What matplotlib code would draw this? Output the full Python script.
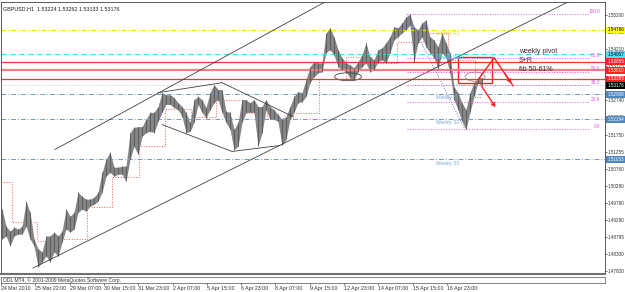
import matplotlib
matplotlib.use("Agg")
import matplotlib.pyplot as plt
from matplotlib.patches import Rectangle, Ellipse
import numpy as np

plt.rcParams["font.family"] = ["Liberation Sans", "DejaVu Sans"]

# GBPUSD H1, 24 Mar - 16 Apr 2010, price in quote units, x in H1 bars
title = "GBPUSD,H1  1.53224 1.53262 1.53133 1.53176"

# high / low of each group of ~4 hourly bars
highs = [
    1.4960, 1.4911, 1.4897, 1.4908, 1.4903, 1.4911, 1.4983, 1.4951, 1.4874, 1.4846,
    1.4837, 1.4883, 1.4883, 1.4894, 1.4883, 1.4897, 1.4960, 1.4940, 1.4951, 1.5009,
    1.4997, 1.4989, 1.4989, 1.4994, 1.5009, 1.5066, 1.5104, 1.5124, 1.5081, 1.5081,
    1.5084, 1.5084, 1.5181, 1.5196, 1.5198, 1.5198, 1.5219, 1.5239, 1.5239, 1.5256,
    1.5296, 1.5290, 1.5290, 1.5282, 1.5267, 1.5256, 1.5239, 1.5210, 1.5276, 1.5285,
    1.5276, 1.5253, 1.5296, 1.5319, 1.5305, 1.5305, 1.5242, 1.5239, 1.5190, 1.5210,
    1.5276, 1.5276, 1.5267, 1.5276, 1.5256, 1.5256, 1.5276, 1.5256, 1.5247, 1.5233,
    1.5219, 1.5227, 1.5256, 1.5285, 1.5299, 1.5296, 1.5333, 1.5371, 1.5385, 1.5382,
    1.5382, 1.5468, 1.5483, 1.5457, 1.5420, 1.5397, 1.5382, 1.5376, 1.5368, 1.5385,
    1.5405, 1.5440, 1.5399, 1.5391, 1.5420, 1.5425, 1.5440, 1.5457, 1.5486, 1.5483,
    1.5497, 1.5514, 1.5523, 1.5486, 1.5477, 1.5497, 1.5506, 1.5457, 1.5448, 1.5428,
    1.5468, 1.5440, 1.5411, 1.5313, 1.5296, 1.5267, 1.5247, 1.5296, 1.5325, 1.5339,
    1.5339,
]
lows = [
    1.4874, 1.4883, 1.4854, 1.4883, 1.4888, 1.4888, 1.4911, 1.4874, 1.4854, 1.4794,
    1.4808, 1.4825, 1.4808, 1.4837, 1.4825, 1.4865, 1.4903, 1.4894, 1.4903, 1.4951,
    1.4960, 1.4954, 1.4969, 1.4974, 1.4983, 1.5009, 1.5055, 1.5066, 1.5055, 1.5061,
    1.5061, 1.5040, 1.5104, 1.5141, 1.5118, 1.5170, 1.5181, 1.5184, 1.5181, 1.5213,
    1.5239, 1.5262, 1.5262, 1.5253, 1.5247, 1.5227, 1.5181, 1.5184, 1.5210, 1.5262,
    1.5239, 1.5224, 1.5247, 1.5267, 1.5276, 1.5239, 1.5210, 1.5190, 1.5132, 1.5141,
    1.5210, 1.5239, 1.5239, 1.5239, 1.5141, 1.5181, 1.5247, 1.5219, 1.5219, 1.5213,
    1.5144, 1.5161, 1.5219, 1.5239, 1.5267, 1.5270, 1.5285, 1.5325, 1.5342, 1.5353,
    1.5356, 1.5411, 1.5420, 1.5405, 1.5371, 1.5362, 1.5356, 1.5339, 1.5333, 1.5356,
    1.5371, 1.5382, 1.5356, 1.5362, 1.5385, 1.5391, 1.5382, 1.5411, 1.5448, 1.5457,
    1.5468, 1.5477, 1.5491, 1.5385, 1.5440, 1.5457, 1.5428, 1.5411, 1.5397, 1.5365,
    1.5411, 1.5397, 1.5353, 1.5276, 1.5247, 1.5213, 1.5190, 1.5239, 1.5285, 1.5325,
    1.5317,
]
bars_per_group = 3.73

# daily pivot (red dotted steps)
day_edges = [0, 10, 34, 55, 80, 104, 129, 153, 177, 201, 225, 248, 272, 297,
             322, 346, 369, 394, 417, 442, 448]
daily_pivot = [1.50374, 1.49225, 1.48680, 1.48737, 1.49656, 1.50518, 1.51408,
               1.52500, 1.52270, 1.52758, 1.52385, 1.52241, 1.52385, 1.53361,
               1.53993, 1.53821, 1.54424, 1.54682, 1.53907, 1.52844]

# weekly levels and S+R zone
weekly_r1 = 1.54766
weekly_pivot = 1.54067
sr_zone = [1.53855, 1.53610, 1.53355]
bid = 1.53176
weekly_s = [1.52908, 1.52194, 1.51033]
weekly_s_names = ["Weekly S1", "Weekly S2", "Weekly S3"]

# fibonacci retracement
fib_high = (378.7, 1.5522)
fib_low = (432.8, 1.5190)
fib_levels = [100.0, 61.8, 50.0, 38.2, 23.6, 0.0]

# hand drawn trendlines (bar, price)
channel_upper = [(50.4, 1.51322), (302.2, 1.55573)]
channel_lower = [(29.9, 1.47904), (532.6, 1.55630)]
wedge_lines = [
    [(146.5, 1.52959), (206.2, 1.53246)],
    [(206.2, 1.53246), (272.4, 1.52270)],
    [(150.2, 1.52040), (215.5, 1.51265)],
    [(215.5, 1.51265), (260.3, 1.51437)],
]

# right axis price scale
price_ticks = [1.55200, 1.54715, 1.54210, 1.53725, 1.53235, 1.52740, 1.52245,
               1.51750, 1.51255, 1.50760, 1.50280, 1.49780, 1.49290, 1.48795,
               1.48300, 1.47820]
time_ticks = list(range(0, 417, 32))
time_labels = ["24 Mar 2010", "25 Mar 22:00", "29 Mar 07:00", "30 Mar 15:00",
               "31 Mar 23:00", "2 Apr 07:00", "5 Apr 15:00", "6 Apr 23:00",
               "8 Apr 07:00", "9 Apr 15:00", "12 Apr 23:00", "14 Apr 07:00",
               "15 Apr 15:00", "16 Apr 23:00"]

SMALL = 3.4
W, H = 625, 292
fig = plt.figure(figsize=(W / 100, H / 100), dpi=100, facecolor="white")
ax = fig.add_axes([1 / W, 1 - 274 / H, 604 / W, 272 / H])
ax.set_xlim(0, 563.4)
ax.set_ylim(1.47732, 1.55573)
ax.set_facecolor("white")
for s in ax.spines.values():
    s.set_linewidth(0.6)
    s.set_color("#404040")
ax.spines["bottom"].set_linewidth(1.5)
ax.spines["bottom"].set_color("#707070")

ax.yaxis.tick_right()
ax.set_yticks(price_ticks)
ax.set_yticklabels([f"{p:.5f}" for p in price_ticks])
ax.tick_params(axis="y", labelsize=3.3, length=1.2, width=0.5, pad=0.8,
               colors="#303030")
ax.set_xticks([])

# horizontal levels
ax.axhline(weekly_r1, color="#e8e800", lw=0.8, ls=(0, (4, 2, 1, 2)))
ax.axhline(weekly_pivot, color="#40e0f0", lw=0.8, ls=(0, (5, 3)))
ax.axhline(sr_zone[0], color="#ff3030", lw=0.9)
ax.axhline(sr_zone[1], color="#f08080", lw=1.6)
ax.axhline(sr_zone[2], color="#ff3030", lw=0.9)
ax.axhline(bid, color="#c0c0c0", lw=0.6, ls=":")
for lvl in weekly_s:
    ax.axhline(lvl, color="#6a9cc8", lw=0.7, ls=(0, (5, 2, 1, 2)))

# daily pivot steps
ax.stairs(daily_pivot, day_edges, color="#ff5a5a", lw=0.7, ls=":",
          baseline=None)

# candles
cx = np.arange(len(highs)) * bars_per_group + 1
ax.fill_between(cx, lows, highs, color="#858585", lw=0)
ax.vlines(cx, lows, highs, color="#555555", lw=0.6)

# trendlines
for seg in [channel_upper, channel_lower] + wedge_lines:
    (x0, y0), (x1, y1) = seg
    ax.plot([x0, x1], [y0, y1], color="#404040", lw=0.6)

# fibonacci
fib_end = 549
ax.plot([fib_high[0], fib_low[0]], [fib_high[1], fib_low[1]],
        color="#7070d0", lw=0.7, ls=":")
for lv in fib_levels:
    p = fib_low[1] + (fib_high[1] - fib_low[1]) * lv / 100
    ax.plot([fib_high[0], fib_end], [p, p], color="#e050e0", lw=0.7, ls=":")
    ax.text(559, p + 0.0002, f"{lv:.1f}", color="#e050e0", fontsize=SMALL,
            ha="right", va="bottom")

# level names
ax.text(406, weekly_r1 - 0.0003, "Weekly R1", color="#e0d020",
        fontsize=SMALL, va="top")
ax.text(406, weekly_pivot - 0.0003, "Weekly Pivot", color="#40d0e0",
        fontsize=SMALL, va="top")
for lvl, name in zip(weekly_s, weekly_s_names):
    ax.text(406, lvl - 0.0003, name, color="#7aa6cc", fontsize=SMALL,
            va="top")

# annotations
ax.add_patch(Rectangle((426.3, 1.53246), 31.7, 0.00747, fill=False,
                       edgecolor="#ff2020", lw=1.0))
ax.add_patch(Ellipse((323.7, 1.53419), 25, 0.0023, fill=False,
                     edgecolor="#404040", lw=0.6))
ax.add_patch(Ellipse((442.2, 1.53419), 18.7, 0.0026, fill=False,
                     edgecolor="#909090", lw=0.6))
ax.plot([445, 460, 477.6], [1.53333, 1.53965, 1.53160], color="#ff2020",
        lw=1.0)
ax.annotate("", xy=(477.6, 1.53160), xytext=(468.8, 1.53562),
            arrowprops=dict(arrowstyle="->", color="#ff2020", lw=1.0,
                            mutation_scale=6))
ax.annotate("", xy=(462.7, 1.52471), xytext=(446.8, 1.53218),
            arrowprops=dict(arrowstyle="->", color="#ff2020", lw=1.0,
                            mutation_scale=6))
ax.text(483, 1.54137, "weekly pivot", fontsize=5.0, color="#303030",
        va="center")
ax.text(483, 1.53880, "S+R", fontsize=5.0, color="#303030", va="center")
ax.text(483, 1.53620, "fib 50-61%", fontsize=5.0, color="#303030",
        va="center")

# price boxes on the right scale
boxes = [(weekly_r1, "#ffff00", "black"), (weekly_pivot, "#40e8f8", "black"),
         (sr_zone[0], "#ff2020", "white"), (sr_zone[1], "#ff2020", "white"),
         (sr_zone[2], "#ff2020", "white"), (bid, "#000000", "white")]
boxes += [(lvl, "#4f86c0", "white") for lvl in weekly_s]
for val, fc, tc in boxes:
    ax.text(1.004, val, f"{val:.5f}", transform=ax.get_yaxis_transform(),
            fontsize=3.3, color=tc, va="center", ha="left", clip_on=False,
            bbox=dict(boxstyle="square,pad=0.2", fc=fc, ec="none"))

ax.text(0.004, 0.985, title, transform=ax.transAxes, fontsize=3.9,
        color="#202020", va="top")

# indicator strip + time scale
ax2 = fig.add_axes([1 / W, 1 - 283 / H, 604 / W, 6 / H])
ax2.set_xlim(ax.get_xlim())
ax2.set_yticks([])
for s in ax2.spines.values():
    s.set_linewidth(0.6)
    s.set_color("#707070")
ax2.set_xticks(time_ticks)
ax2.set_xticklabels(time_labels)
ax2.tick_params(axis="x", labelsize=3.8, length=1.5, width=0.5, pad=0.8,
                colors="#303030")
for lbl in ax2.get_xticklabels():
    lbl.set_ha("left")
ax2.text(0.003, 0.5, "ODL MT4, \u00a9 2001-2009 MetaQuotes Software Corp.",
         transform=ax2.transAxes, fontsize=3.6, va="center",
         color="#303030")

fig.savefig("out.png", dpi=100, facecolor="white")
